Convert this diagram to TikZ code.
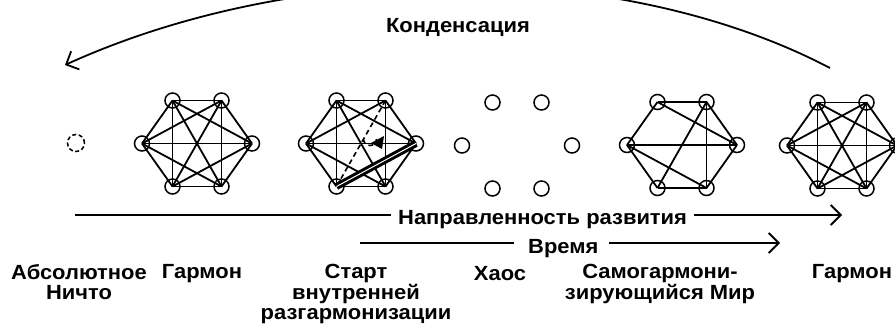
\documentclass[tikz,border=0pt]{standalone}
\usepackage{fontspec}
\setmainfont{Liberation Sans}[FakeStretch=1.07]
\usetikzlibrary{arrows.meta}
\tikzset{
  vtx/.style={circle,draw,line width=1.5pt,minimum size=15pt,inner sep=0pt},
  edge/.style={line width=1.8pt},
  lbl/.style={font=\bfseries\fontsize{20.5}{20.5}\selectfont,align=center,inner sep=0pt},
  arr/.style={line width=1.8pt,-{Straight Barb[length=10pt,width=20pt,line width=1.8pt]}},
  dsh/.style={line width=1.6pt,dash pattern=on 5pt off 3.5pt},
}
\newcommand{\hexv}[3]{%
  \node[vtx] (#1tl) at ({#2-24.5},{#3-43}) {};
  \node[vtx] (#1tr) at ({#2+24.5},{#3-43}) {};
  \node[vtx] (#1l) at ({#2-55},{#3}) {};
  \node[vtx] (#1r) at ({#2+55},{#3}) {};
  \node[vtx] (#1bl) at ({#2-24.5},{#3+43}) {};
  \node[vtx] (#1br) at ({#2+24.5},{#3+43}) {};}
\begin{document}
\begin{tikzpicture}[x=1pt,y=-1pt]
\useasboundingbox (0,0) rectangle (895,325);
% Absolute nothing
\node[circle,draw,dash pattern=on 4pt off 2.5pt,line width=1.5pt,minimum size=17pt,inner sep=0pt] (nothing) at (76,143) {};
% hexagons
\hexv{a}{197}{143.5}
\hexv{b}{361}{143.5}
\hexv{c}{517}{145.5}
\hexv{d}{682}{145}
\hexv{e}{842}{145.5}
% complete graphs
\foreach \p/\q in {tl/tr,tl/l,tl/r,tl/bl,tl/br,tr/l,tr/r,tr/bl,tr/br,l/r,l/bl,l/br,r/bl,r/br,bl/br}{
  \draw[edge] (a\p.center) -- (a\q.center);
  \draw[edge] (e\p.center) -- (e\q.center);
}
% start of disharmonisation
\foreach \p/\q in {tl/tr,tl/l,tl/r,tl/bl,tl/br,tr/l,tr/r,tr/br,l/r,l/bl,l/br,r/br,bl/br}{
  \draw[edge] (b\p.center) -- (b\q.center);
}
\draw[dsh] (btr.center) -- (bbl.center);
\draw[line width=3pt,double=white,double distance=1pt] (bbl.center) -- (br.center);
\draw[dsh] (363.5,139) arc (180:0:6.5);
\coordinate (tri1) at (371,143);
\coordinate (tri2) at (384,136);
\coordinate (tri3) at (382,149);
\fill (tri1) -- (tri2) -- (tri3) -- cycle;
% self-harmonising world
\foreach \p/\q in {tl/tr,tl/l,tl/r,tr/r,tr/br,tr/bl,l/r,l/bl,l/br,r/br,bl/br}{
  \draw[edge] (d\p.center) -- (d\q.center);
}
% condensation arc
\coordinate (cs) at (830,68);
\coordinate (ce) at (65,65);
\draw[arr] (cs) .. controls (620,-42) and (300,-42) .. (ce);
\node[lbl,anchor=base] (kond) at (458,32) {Конденсация};
% direction of development
\node[lbl,anchor=base west] (napr) at (398,224) {Направленность развития};
\coordinate (n1) at (75,215);
\coordinate (n2) at (842,215);
\draw[edge] (n1) -- ([xshift=-7pt]napr.west |- n1);
\draw[arr] ([xshift=7pt]napr.east |- n1) -- (n2);
% time
\node[lbl,anchor=base west] (vrem) at (528,253) {Время};
\coordinate (t1) at (360,243);
\coordinate (t2) at (780,243);
\draw[edge] (t1) -- ([xshift=-14pt]vrem.west |- t1);
\draw[arr] ([xshift=10pt]vrem.east |- t1) -- (t2);
% labels
\node[lbl,anchor=north] (l1) at (79,264) {Абсолютное\\Ничто};
\node[lbl,anchor=north] (l2) at (202,264) {Гармон};
\node[lbl,anchor=north] (l3) at (356,264) {Старт\\внутренней\\разгармонизации};
\node[lbl,anchor=north] (l4) at (500,266) {Хаос};
\node[lbl,anchor=north] (l5) at (660,264) {Самогармони-\\зирующийся Мир};
\node[lbl,anchor=north] (l6) at (852,264) {Гармон};
\end{tikzpicture}
\end{document}
